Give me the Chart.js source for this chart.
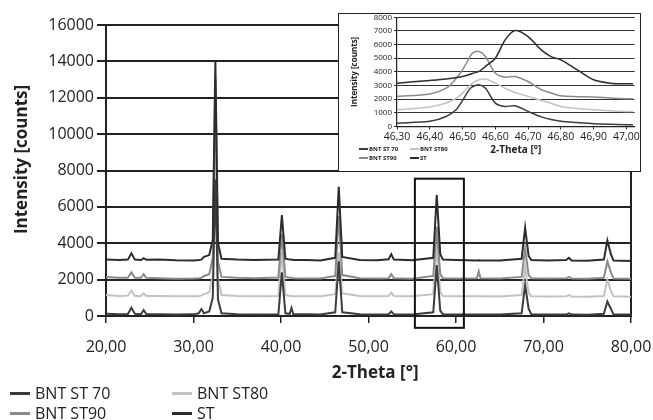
<!DOCTYPE html>
<html>
<head>
<meta charset="utf-8">
<script src="https://cdn.jsdelivr.net/npm/chart.js@4"></script>
<style>
  body { margin: 0; background: #fff; }
  #wrap { position: relative; width: 653px; height: 420px; background: #fff; font-family: "Open Sans", sans-serif; color: #222; }
  #insetBox { position: absolute; left: 338px; top: 13px; width: 303px; height: 159px; box-sizing: border-box; border: 1.5px solid #222; background: #fff; }
  #inset { position: absolute; left: 338px; top: 8px; }
  .lg { position: absolute; display: flex; align-items: center; white-space: nowrap; }
  .lg span.ln { display: inline-block; }
</style>
</head>
<body>
<div id="wrap">
  <canvas id="main" width="653" height="420"></canvas>
  <div id="insetBox"></div>
  <canvas id="inset" width="303" height="164"></canvas>
</div>
<script>
// 2-theta positions shared by all four patterns (main chart)
const twoTheta = [20.0, 21.5, 22.5, 22.9, 23.3, 24.0, 24.3, 24.6, 26.0, 28.0, 30.0, 30.6, 30.9, 31.2, 31.8, 32.2, 32.5, 32.8, 33.2, 35.0,
  37.0, 39.7, 40.1, 40.5, 41.0, 41.2, 41.4, 43.0, 44.5, 46.2, 46.6, 47.0, 49.0, 51.0, 52.3, 52.6, 52.9, 55.0, 57.4, 57.8,
  58.2, 58.5, 60.0, 62.4, 62.6, 62.8, 65.0, 67.5, 67.9, 68.3, 68.6, 70.5, 72.6, 72.9, 73.2, 75.0, 76.9, 77.3, 77.7, 78.0, 80.0];

const bntSt70 = [120, 100, 110, 450, 120, 100, 330, 110, 100, 80, 90, 150, 380, 150, 250, 1000, 7500, 900, 150, 100,
  80, 100, 2400, 150, 120, 450, 100, 90, 80, 200, 3000, 200, 90, 80, 100, 250, 90, 80, 200, 2800,
  300, 100, 80, 80, 80, 80, 80, 150, 1700, 400, 100, 80, 80, 150, 80, 70, 120, 800, 400, 90, 80];
const bntSt80 = [1150, 1100, 1120, 1400, 1100, 1100, 1250, 1100, 1100, 1080, 1080, 1100, 1120, 1200, 1300, 2200, 10900, 2000, 1150, 1100,
  1080, 1100, 3500, 1150, 1100, 1100, 1080, 1080, 1080, 1200, 3500, 1250, 1100, 1080, 1100, 1280, 1100, 1080, 1200, 3900,
  1300, 1100, 1080, 1080, 1080, 1080, 1070, 1150, 2700, 1250, 1090, 1070, 1080, 1160, 1070, 1060, 1100, 2000, 1400, 1080, 1060];
const bntSt90 = [2150, 2100, 2100, 2400, 2100, 2100, 2300, 2100, 2080, 2050, 2060, 2080, 2100, 2200, 2300, 3200, 13000, 3000, 2150, 2100,
  2080, 2120, 4500, 2150, 2100, 2100, 2080, 2060, 2060, 2200, 5500, 2250, 2080, 2060, 2080, 2300, 2080, 2050, 2200, 4900,
  2300, 2080, 2060, 2070, 2450, 2070, 2060, 2150, 3700, 2250, 2080, 2060, 2070, 2150, 2060, 2050, 2100, 3000, 2400, 2060, 2050];
const stPure = [3100, 3080, 3100, 3450, 3100, 3080, 3180, 3090, 3100, 3060, 3050, 3080, 3100, 3250, 3350, 4200, 14000, 4000, 3150, 3100,
  3080, 3100, 5550, 3150, 3100, 3100, 3080, 3080, 3050, 3200, 7100, 3250, 3080, 3060, 3120, 3400, 3100, 3060, 3200, 6650,
  3400, 3100, 3080, 3050, 3060, 3050, 3050, 3150, 4850, 3300, 3080, 3050, 3080, 3200, 3050, 3040, 3100, 4150, 3400, 3050, 3020];

// inset: detail around 46.5 degrees
const insetTheta = [46.30, 46.40, 46.45, 46.48, 46.50, 46.52, 46.53, 46.55, 46.57, 46.60, 46.63, 46.66, 46.70, 46.74, 46.77,
  46.80, 46.85, 46.90, 46.95, 47.00, 47.02];
const insetSt70 = [240, 370, 730, 1220, 1900, 2680, 2900, 3050, 2800, 1710, 1460, 1510, 1100, 700, 500, 370, 280, 200, 150, 120, 120];
const insetSt80 = [1220, 1420, 1710, 2050, 2440, 2950, 3170, 3420, 3470, 3170, 2800, 2480, 2200, 1900, 1700, 1460, 1320, 1220, 1150, 1100, 1100];
const insetSt90 = [2200, 2370, 2800, 3500, 4150, 5000, 5370, 5490, 5120, 3900, 3610, 3660, 3290, 2700, 2450, 2240, 2180, 2150, 2080, 2030, 2030];
const insetSt = [3170, 3370, 3480, 3580, 3660, 3800, 3880, 4030, 4400, 5000, 6340, 7030, 6590, 5610, 5120, 4880, 4150, 3420, 3170, 3120, 3120];

const seriesNames = ['BNT ST 70', 'BNT ST80', 'BNT ST90', 'ST'];
const seriesColors = ['#3c3c3c', '#c2c2c2', '#8a8a8a', '#2c2c2c'];
const drawOrder = [1, 3, 2, 0]; // lower = drawn on top

const mainXTicks = [20, 30, 40, 50, 60, 70, 80];
const mainYTicks = [0, 2000, 4000, 6000, 8000, 10000, 12000, 14000, 16000];
const insetXTicks = [46.3, 46.4, 46.5, 46.6, 46.7, 46.8, 46.9, 47.0];
const insetYTicks = [0, 1000, 2000, 3000, 4000, 5000, 6000, 7000, 8000];

// zoomed region marked on the main chart: [x from, x to, y from, y to]
const zoomBox = [55.3, 60.9, -650, 7550];

const mainSeries = [bntSt70, bntSt80, bntSt90, stPure];
const insetSeries = [insetSt70, insetSt80, insetSt90, insetSt];
const ink = '#222';
const fmt = v => v.toFixed(2).replace('.', ',');

Chart.defaults.font.family = '"Open Sans", sans-serif';
Chart.defaults.color = ink;

const boxPlugin = {
  id: 'zoomBox',
  afterDraw(chart) {
    const { ctx, scales: { x, y } } = chart;
    const x0 = x.getPixelForValue(zoomBox[0]), x1 = x.getPixelForValue(zoomBox[1]);
    const y0 = y.getPixelForValue(zoomBox[2]), y1 = y.getPixelForValue(zoomBox[3]);
    ctx.save();
    ctx.strokeStyle = '#111';
    ctx.lineWidth = 2;
    ctx.strokeRect(x0, y1, x1 - x0, y0 - y1);
    ctx.restore();
  }
};

new Chart(document.getElementById('main'), {
  type: 'line',
  data: {
    datasets: seriesNames.map((name, i) => ({
      label: name,
      data: twoTheta.map((t, j) => ({ x: t, y: mainSeries[i][j] })),
      borderColor: seriesColors[i],
      borderWidth: 2,
      pointRadius: 0,
      tension: 0,
      order: drawOrder[i]
    }))
  },
  options: {
    responsive: false,
    animation: false,
    layout: { padding: { left: 0, right: 22, top: 25, bottom: 35 } },
    plugins: { legend: { display: false }, tooltip: { enabled: false } },
    scales: {
      x: {
        type: 'linear', min: 20, max: 80,
        afterBuildTicks: s => { s.ticks = mainXTicks.map(v => ({ value: v })); },
        afterFit: s => { s.height = 69; s.paddingRight = 0; s.paddingLeft = 0; },
        ticks: { callback: v => fmt(v), font: { size: 16 }, padding: 15, maxRotation: 0 },
        grid: { drawOnChartArea: false, tickLength: 7, color: ink, lineWidth: 1.5 },
        border: { color: ink, width: 2 },
        title: { display: true, text: '   2-Theta [°]', font: { size: 17, weight: 'bold' }, padding: { top: 6, bottom: 2 } }
      },
      y: {
        min: 0, max: 16000,
        afterBuildTicks: s => { s.ticks = mainYTicks.map(v => ({ value: v })); },
        afterFit: s => { s.width = 106; },
        ticks: { callback: v => String(v), font: { size: 16 }, padding: 3 },
        grid: { color: ink, lineWidth: 2, tickLength: 9 },
        border: { color: ink, width: 2 },
        title: { display: true, text: '     Intensity [counts]', font: { size: 17, weight: 'bold' }, padding: { top: 12, bottom: 0 } }
      },
      yRight: {
        position: 'right', min: 0, max: 16000,
        ticks: { display: false },
        grid: { display: false, drawTicks: false },
        border: { display: true, color: ink, width: 2 },
        afterFit: s => { s.width = 0; }
      }
    }
  },
  plugins: [boxPlugin]
});

new Chart(document.getElementById('inset'), {
  type: 'line',
  data: {
    datasets: seriesNames.map((name, i) => ({
      label: name,
      data: insetTheta.map((t, j) => ({ x: t, y: insetSeries[i][j] })),
      borderColor: seriesColors[i],
      borderWidth: 1.5,
      pointRadius: 0,
      tension: 0.3,
      order: drawOrder[i]
    }))
  },
  options: {
    responsive: false,
    animation: false,
    layout: { padding: { left: 0, right: 6, top: 9.3, bottom: 14 } },
    plugins: { legend: { display: false }, tooltip: { enabled: false } },
    scales: {
      x: {
        type: 'linear', min: 46.3, max: 47.025,
        afterBuildTicks: s => { s.ticks = insetXTicks.map(v => ({ value: v })); },
        ticks: { callback: v => fmt(v), font: { size: 10.5 }, padding: 1, maxRotation: 0 },
        grid: { drawOnChartArea: false, tickLength: 3, color: ink, lineWidth: 1 },
        border: { color: ink, width: 1.2 },
        title: { display: true, text: '2-Theta [°]', font: { size: 10, weight: 'bold' }, padding: { top: 0, bottom: 2 } }
      },
      y: {
        min: 0, max: 8000,
        afterBuildTicks: s => { s.ticks = insetYTicks.map(v => ({ value: v })); },
        afterFit: s => { s.width = 59; },
        ticks: { callback: v => String(v), font: { size: 8 }, padding: 2 },
        grid: { color: '#333', lineWidth: 1, tickLength: 3 },
        border: { color: ink, width: 1.2 },
        title: { display: true, text: 'Intensity [counts]', font: { size: 8, weight: 'bold' }, padding: { top: 12, bottom: 0 } }
      }
    }
  }
});

// legends (two columns, row-major), built from the series names and colours
function addLegend(opts) {
  const wrap = document.getElementById('wrap');
  seriesNames.forEach((name, i) => {
    const el = document.createElement('div');
    el.className = 'lg';
    el.style.left = opts.cols[i % 2] + 'px';
    el.style.top = opts.rows[Math.floor(i / 2)] + 'px';
    el.style.fontSize = opts.size + 'px';
    el.style.fontWeight = opts.weight;
    el.style.height = opts.lineH + 'px';
    const ln = document.createElement('span');
    ln.className = 'ln';
    ln.style.width = opts.sample + 'px';
    ln.style.height = opts.thick + 'px';
    ln.style.background = seriesColors[i];
    ln.style.marginRight = opts.gap + 'px';
    const tx = document.createElement('span');
    tx.textContent = name;
    el.appendChild(ln);
    el.appendChild(tx);
    wrap.appendChild(el);
  });
}
addLegend({ cols: [10, 172], rows: [383, 403], size: 16, weight: 'normal', lineH: 20, sample: 20, thick: 3, gap: 5 });
addLegend({ cols: [359, 410], rows: [145, 154], size: 6, weight: 'bold', lineH: 8, sample: 9, thick: 1.5, gap: 1 });
</script>
</body>
</html>
